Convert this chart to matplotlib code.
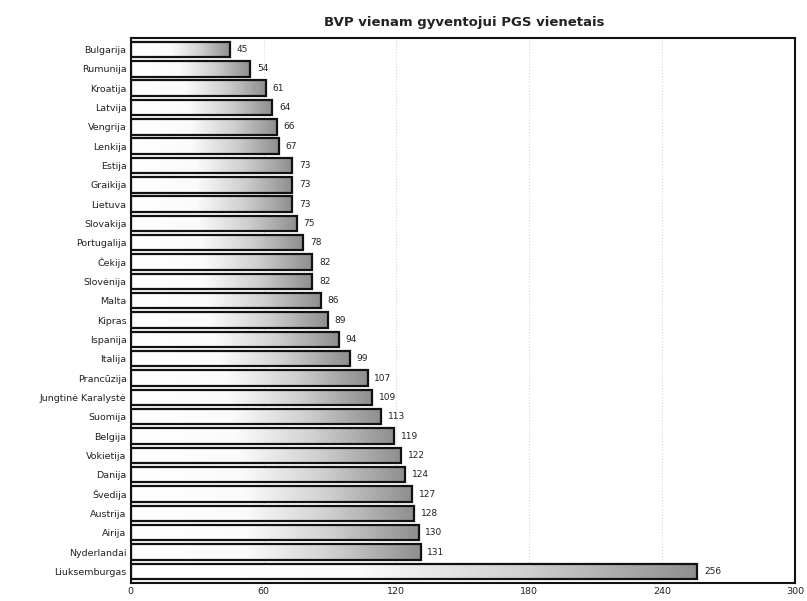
import matplotlib
matplotlib.use("Agg")
import matplotlib.pyplot as plt
import numpy as np
from matplotlib.colors import LinearSegmentedColormap
from matplotlib.patches import Rectangle

# GDP per capita in PPS
countries = ["Bulgarija", "Rumunija", "Kroatija", "Latvija", "Vengrija", "Lenkija",
             "Estija", "Graikija", "Lietuva", "Slovakija", "Portugalija", "Čekija",
             "Slovėnija", "Malta", "Kipras", "Ispanija", "Italija", "Prancūzija",
             "Jungtinė Karalystė", "Suomija", "Belgija", "Vokietija", "Danija",
             "Švedija", "Austrija", "Airija", "Nyderlandai", "Liuksemburgas"]
values = [45, 54, 61, 64, 66, 67, 73, 73, 73, 75, 78, 82, 82, 86, 89, 94, 99,
          107, 109, 113, 119, 122, 124, 127, 128, 130, 131, 256]
ticks = [0, 60, 120, 180, 240, 300]

fig = plt.figure(figsize=(8.07, 6.01), dpi=100)
ax = fig.add_axes([0.162, 0.030, 0.823, 0.907])

# white on the left half, fading to grey at the right end of each bar
cmap = LinearSegmentedColormap.from_list(
    "bar", [(0, "#ffffff"), (0.4, "#fbfbfb"), (0.7, "#cfcfcf"), (1, "#8e8e8e")])
grad = np.linspace(0, 1, 256).reshape(1, -1)
h = 0.8
for i, v in enumerate(values):
    ax.imshow(grad, cmap=cmap, extent=(0, v, i + h / 2, i - h / 2),
              aspect="auto", interpolation="bilinear", zorder=2)
    ax.add_patch(Rectangle((0, i - h / 2), v, h, fill=False,
                           edgecolor="#111111", linewidth=1.6, zorder=3))
    ax.text(v + 3, i, str(v), va="center", ha="left", fontsize=6.5, color="#222222")

ax.set_xlim(0, 300)
ax.set_ylim(len(values) - 0.4, -0.6)
ax.set_yticks(range(len(countries)))
ax.set_yticklabels(countries, fontsize=6.8, color="#222222")
ax.set_xticks(ticks)
ax.set_xticklabels([str(t) for t in ticks], fontsize=6.8, color="#222222")
ax.tick_params(length=0, pad=3)
ax.xaxis.grid(True, linestyle=":", color="#d8d8d8", linewidth=0.8)
ax.set_axisbelow(True)
for s in ax.spines.values():
    s.set_linewidth(1.5)
    s.set_color("#111111")

fig.text(0.575, 0.963, "BVP vienam gyventojui PGS vienetais", ha="center", va="center",
         fontsize=9.5, fontweight="bold", color="#222222")

fig.savefig("out.png", dpi=100)
